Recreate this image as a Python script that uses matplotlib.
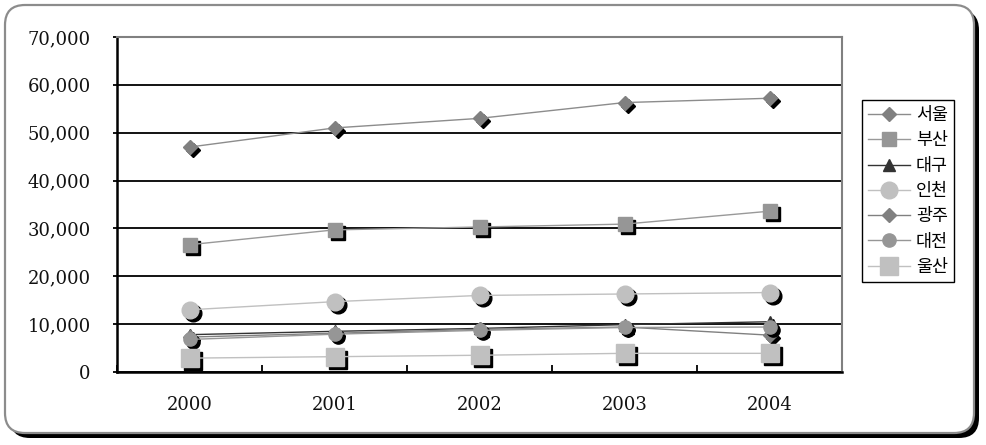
import numpy as np
import matplotlib.pyplot as plt
from matplotlib import transforms
from matplotlib.patches import FancyBboxPatch
from matplotlib.ticker import FuncFormatter, MultipleLocator

# 데이터
years = ["2000", "2001", "2002", "2003", "2004"]
cities = ["서울", "부산", "대구", "인천", "광주", "대전", "울산"]
seoul = [47000, 51000, 53000, 56300, 57200]
busan = [26600, 29700, 30300, 30900, 33600]
daegu = [7800, 8500, 9100, 9900, 10500]
incheon = [13000, 14700, 16000, 16300, 16600]
gwangju = [7300, 8100, 8900, 9400, 7700]
daejeon = [6800, 7900, 8700, 9300, 9400]
ulsan = [2900, 3200, 3500, 3900, 3900]
series = [seoul, busan, daegu, incheon, gwangju, daejeon, ulsan]

# 스타일: (마커, 크기, 마커색, 선색)
styles = [
    ("D", 7.5, "#808080", "#8c8c8c"),
    ("s", 10, "#969696", "#999999"),
    ("^", 8.5, "#333333", "#333333"),
    ("o", 12, "#c0c0c0", "#c0c0c0"),
    ("D", 7.5, "#808080", "#808080"),
    ("o", 9.5, "#969696", "#969696"),
    ("s", 13, "#c0c0c0", "#c0c0c0"),
]

fig = plt.figure(figsize=(9.86, 4.45), dpi=100)

# 바깥 둥근 테두리 + 그림자
shadow = FancyBboxPatch((0.10, 0.07), 9.69, 4.28,
                        boxstyle="round,pad=0,rounding_size=0.2",
                        transform=fig.dpi_scale_trans, fc="black", ec="none", zorder=-2)
frame = FancyBboxPatch((0.05, 0.12), 9.69, 4.28,
                       boxstyle="round,pad=0,rounding_size=0.2",
                       transform=fig.dpi_scale_trans, fc="white", ec="#8c8c8c", lw=1.6, zorder=-1)
fig.patches.extend([shadow, frame])

ax = fig.add_axes([117 / 986, 73 / 445, 725 / 986, 335 / 445])
x = np.arange(len(years))
shadow_tr = transforms.offset_copy(ax.transData, fig=fig, x=3, y=-3, units="dots")

handles = []
for name, vals, (m, s, mc, lc) in zip(cities, series, styles):
    ax.plot(x, vals, ls="none", marker=m, ms=s, mfc="black", mec="black",
            transform=shadow_tr, zorder=3)
    h, = ax.plot(x, vals, color=lc, lw=1.0, marker=m, ms=s, mfc=mc, mec=mc,
                 zorder=3, label=name)
    handles.append(h)

ax.set_xlim(-0.5, len(years) - 0.5)
ax.set_ylim(0, 70000)
ax.yaxis.set_major_locator(MultipleLocator(10000))
ax.yaxis.set_major_formatter(FuncFormatter(lambda v, p: f"{int(v):,}"))
for v in ax.get_yticks()[1:-1]:
    ax.axhline(v, color="black", lw=1.3, zorder=1)

ax.set_xticks(x)
ax.set_xticklabels(years)
ax.set_xticks(np.arange(len(years) + 1) - 0.5, minor=True)
ax.tick_params(axis="x", which="major", length=0, pad=17)
ax.tick_params(axis="x", which="minor", direction="in", length=5, width=1.3)
ax.tick_params(axis="y", direction="out", length=3, width=1.3, pad=16)
for lab in ax.get_xticklabels() + ax.get_yticklabels():
    lab.set_fontfamily("DejaVu Serif")
    lab.set_fontsize(13)
    lab.set_color("#111111")

for side in ["left", "bottom"]:
    ax.spines[side].set_color("black")
    ax.spines[side].set_linewidth(1.8)
for side in ["top", "right"]:
    ax.spines[side].set_color("#808080")
    ax.spines[side].set_linewidth(1.5)

leg = fig.legend(handles=handles, loc="upper left", bbox_to_anchor=(862 / 986, 1 - 100 / 445),
                 frameon=True, fancybox=False, edgecolor="black", framealpha=1,
                 prop={"family": ["Noto Sans CJK KR", "DejaVu Sans"], "size": 12.5},
                 handlelength=2.4, handletextpad=0.35, labelspacing=0.42,
                 borderpad=0.35, borderaxespad=0)
leg.get_frame().set_linewidth(1.0)

fig.savefig("out.png", dpi=100)
